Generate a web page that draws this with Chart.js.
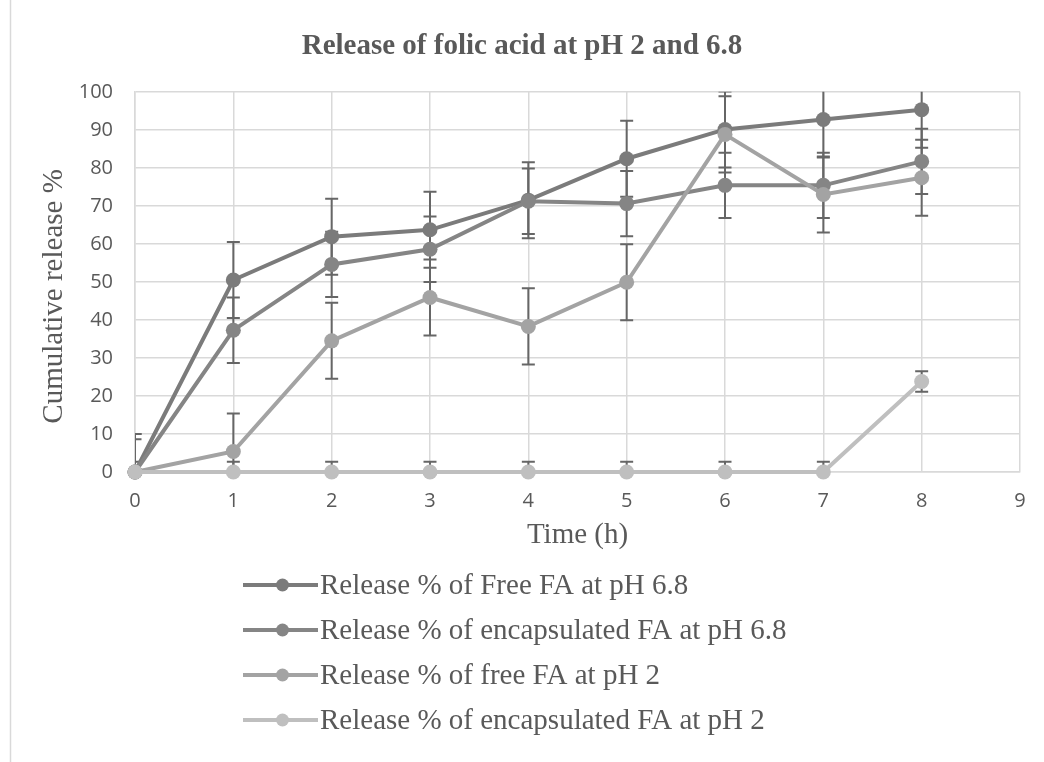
<!DOCTYPE html>
<html>
<head>
<meta charset="utf-8">
<script src="https://cdn.jsdelivr.net/npm/chart.js@4.4.1/dist/chart.umd.min.js"></script>
<style>
  html, body { margin: 0; padding: 0; background: #fff; }
  #wrap { width: 1044px; height: 762px; }
</style>
</head>
<body>
<div id="wrap"><canvas id="chart" width="1044" height="762"></canvas></div>
<script>
// tempo (h) e liberação acumulada (%) de cada série
const hours = [0, 1, 2, 3, 4, 5, 6, 7, 8];
const freePH68 = [0, 50.5, 61.9, 63.7, 71.5, 82.4, 90.1, 92.7, 95.3];
const encPH68 = [0, 37.3, 54.6, 58.6, 71.2, 70.6, 75.4, 75.4, 81.7];
const freePH2 = [0, 5.4, 34.5, 45.9, 38.3, 49.9, 88.8, 73.0, 77.4];
const encPH2 = [0, 0, 0, 0, 0, 0, 0, 0, 23.8];

// barras de erro (±)
const errFreePH68 = [10, 10, 10, 10, 10, 10, 10, 10, 10];
const errEncPH68 = [8.6, 8.6, 8.6, 8.6, 8.6, 8.6, 8.6, 8.6, 8.6];
const errFreePH2 = [10, 10, 10, 10, 10, 10, 10, 10, 10];
const errEncPH2 = [2.7, 2.7, 2.7, 2.7, 2.7, 2.7, 2.7, 2.7, 2.7];

const seriesLabels = [
  'Release % of Free FA at pH 6.8',
  'Release % of encapsulated FA at pH 6.8',
  'Release % of free FA at pH 2',
  'Release % of encapsulated FA at pH 2'
];
const seriesColors = ['#7b7b7b', '#858585', '#a3a3a3', '#bfbfbf'];

const textColor = '#595959';
const gridColor = '#d9d9d9';
const serif = 'Liberation Serif';

const toPoints = (vals) => hours.map((h, i) => ({ x: h, y: vals[i] }));

function makeDataset(i, vals, errs) {
  return {
    label: seriesLabels[i],
    data: toPoints(vals),
    errors: errs,
    borderColor: seriesColors[i],
    backgroundColor: seriesColors[i],
    pointBackgroundColor: seriesColors[i],
    pointBorderWidth: 0,
    pointRadius: 7.5,
    borderWidth: 4,
    tension: 0,
    clip: false,
    order: 4 - i // a última série fica por cima, igual ao Excel
  };
}

// desenha as barras de erro antes das linhas
const errorBars = {
  id: 'errorBars',
  beforeDatasetsDraw(chart) {
    const { ctx, chartArea, scales: { x, y } } = chart;
    ctx.save();
    ctx.beginPath();
    ctx.rect(chartArea.left, chartArea.top, chartArea.width, chartArea.height);
    ctx.clip();
    ctx.strokeStyle = '#666666';
    ctx.lineWidth = 2;
    const cap = 6.5;
    chart.data.datasets.forEach(ds => {
      ds.data.forEach((p, i) => {
        const e = ds.errors[i];
        const px = x.getPixelForValue(p.x);
        const top = y.getPixelForValue(p.y + e);
        const bot = y.getPixelForValue(p.y - e);
        ctx.beginPath();
        ctx.moveTo(px, top); ctx.lineTo(px, bot);
        ctx.moveTo(px - cap, top); ctx.lineTo(px + cap, top);
        ctx.moveTo(px - cap, bot); ctx.lineTo(px + cap, bot);
        ctx.stroke();
      });
    });
    ctx.restore();
  }
};

// legenda estilo Excel, alinhada à esquerda, uma série por linha
const excelLegend = {
  id: 'excelLegend',
  afterDraw(chart) {
    const { ctx } = chart;
    ctx.save();
    // borda esquerda do objeto do gráfico
    ctx.strokeStyle = gridColor;
    ctx.lineWidth = 1.5;
    ctx.beginPath();
    ctx.moveTo(10.5, 0); ctx.lineTo(10.5, chart.height);
    ctx.stroke();

    const x0 = 243, x1 = 318, rowTop = 585, rowGap = 45;
    ctx.font = `29px "${serif}"`;
    ctx.textBaseline = 'middle';
    ctx.textAlign = 'left';
    chart.data.datasets.forEach((ds, i) => {
      const yy = rowTop + i * rowGap;
      ctx.strokeStyle = ds.borderColor;
      ctx.lineWidth = 4;
      ctx.beginPath();
      ctx.moveTo(x0, yy); ctx.lineTo(x1, yy);
      ctx.stroke();
      ctx.fillStyle = ds.borderColor;
      ctx.beginPath();
      ctx.arc((x0 + x1) / 2 + 2, yy, 6.5, 0, Math.PI * 2);
      ctx.fill();
      ctx.fillStyle = textColor;
      ctx.fillText(ds.label, x1 + 2, yy + 1);
    });
    ctx.restore();
  }
};

new Chart(document.getElementById('chart').getContext('2d'), {
  type: 'line',
  data: {
    datasets: [
      makeDataset(0, freePH68, errFreePH68),
      makeDataset(1, encPH68, errEncPH68),
      makeDataset(2, freePH2, errFreePH2),
      makeDataset(3, encPH2, errEncPH2)
    ]
  },
  options: {
    responsive: false,
    animation: false,
    layout: { padding: { left: 24, right: 24, top: 0, bottom: 200 } },
    plugins: {
      legend: { display: false },
      tooltip: { enabled: false },
      title: {
        display: true,
        text: 'Release of folic acid at pH 2 and 6.8',
        color: textColor,
        font: { family: serif, size: 29, weight: 'bold' },
        padding: { top: 29, bottom: 28 }
      }
    },
    scales: {
      x: {
        type: 'linear',
        min: 0,
        max: 9,
        ticks: { stepSize: 1, padding: 17, color: textColor, font: { family: 'Open Sans', size: 20 } },
        grid: { color: gridColor, lineWidth: 1.5, drawTicks: false },
        border: { color: gridColor, width: 1.5 },
        title: {
          display: true,
          text: 'Time (h)',
          color: textColor,
          font: { family: serif, size: 29 },
          padding: { top: 0, bottom: 9 }
        },
        afterFit(scale) { scale.height = 90; }
      },
      y: {
        min: 0,
        max: 100,
        ticks: { stepSize: 10, padding: 22, color: textColor, font: { family: 'Open Sans', size: 20 } },
        grid: { color: gridColor, lineWidth: 1.5, drawTicks: false },
        border: { color: gridColor, width: 1.5 },
        title: {
          display: true,
          text: 'Cumulative release %\u00a0\u00a0\u00a0\u00a0',
          color: textColor,
          font: { family: serif, size: 29 },
          padding: { top: 13, bottom: 0 }
        },
        afterFit(scale) { scale.width = 111; }
      }
    }
  },
  plugins: [errorBars, excelLegend]
});
</script>
</body>
</html>
